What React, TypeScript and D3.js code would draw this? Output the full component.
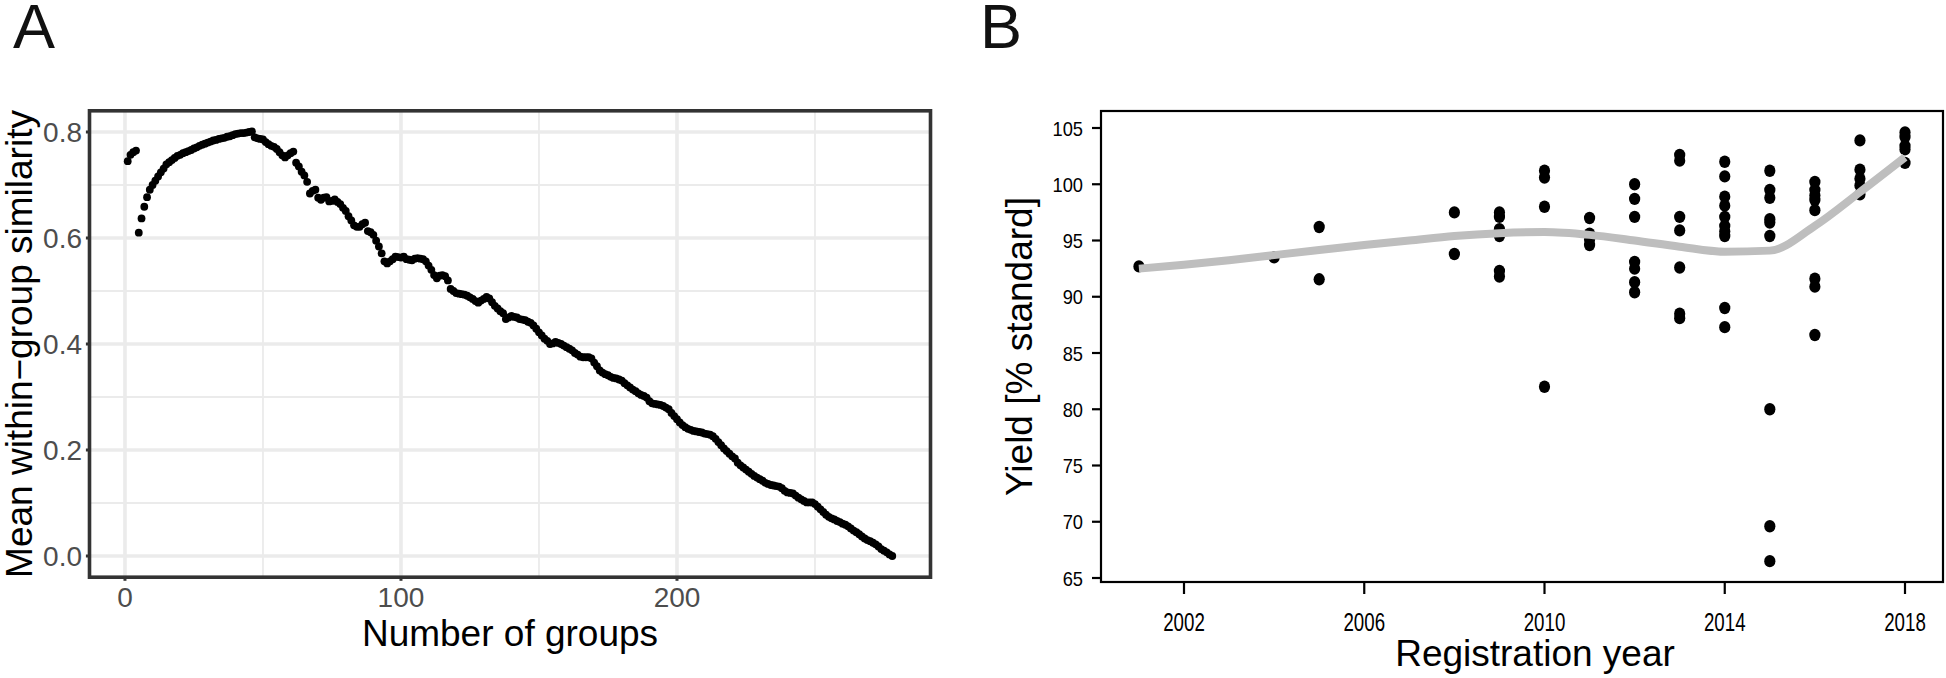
import React from "react";
import * as d3 from "d3";

// ---------- Panel A data ----------
// Mean within-group similarity for number of groups = 1, 2, 3, ...
const similarity: number[] = [
  0.745, 0.757, 0.762, 0.765, 0.610, 0.637, 0.659, 0.677, 0.691, 0.700,
  0.708, 0.716, 0.724, 0.731, 0.739, 0.743, 0.747, 0.751, 0.755, 0.757,
  0.760, 0.762, 0.764, 0.766, 0.769, 0.771, 0.774, 0.776, 0.778, 0.780,
  0.782, 0.784, 0.785, 0.787, 0.788, 0.789, 0.791, 0.792, 0.794, 0.796,
  0.797, 0.798, 0.798, 0.799, 0.800, 0.801, 0.790, 0.788, 0.787, 0.786,
  0.781, 0.777, 0.774, 0.772, 0.768, 0.762, 0.756, 0.752, 0.756, 0.760,
  0.763, 0.742, 0.735, 0.725, 0.718, 0.706, 0.684, 0.689, 0.691, 0.676,
  0.672, 0.676, 0.677, 0.669, 0.670, 0.673, 0.668, 0.664, 0.657, 0.651,
  0.641, 0.633, 0.624, 0.621, 0.621, 0.626, 0.629, 0.613, 0.611, 0.606,
  0.595, 0.584, 0.571, 0.556, 0.552, 0.556, 0.560, 0.565, 0.564, 0.563,
  0.565, 0.560, 0.559, 0.558, 0.561, 0.562, 0.561, 0.560, 0.556, 0.548,
  0.540, 0.530, 0.524, 0.529, 0.530, 0.528, 0.520, 0.504, 0.500, 0.496,
  0.495, 0.494, 0.493, 0.491, 0.488, 0.485, 0.481, 0.478, 0.482, 0.485,
  0.489, 0.486, 0.479, 0.472, 0.467, 0.462, 0.458, 0.447, 0.450, 0.453,
  0.451, 0.450, 0.447, 0.446, 0.445, 0.442, 0.440, 0.435, 0.429, 0.422,
  0.416, 0.410, 0.406, 0.400, 0.401, 0.404, 0.402, 0.400, 0.397, 0.394,
  0.391, 0.388, 0.383, 0.380, 0.376, 0.375, 0.375, 0.375, 0.373, 0.365,
  0.358, 0.350, 0.346, 0.343, 0.341, 0.338, 0.336, 0.335, 0.333, 0.331,
  0.326, 0.322, 0.318, 0.314, 0.311, 0.307, 0.304, 0.302, 0.299, 0.292,
  0.288, 0.287, 0.286, 0.285, 0.283, 0.280, 0.277, 0.270, 0.264, 0.258,
  0.252, 0.247, 0.243, 0.240, 0.238, 0.236, 0.235, 0.234, 0.233, 0.231,
  0.230, 0.229, 0.226, 0.221, 0.215, 0.209, 0.203, 0.198, 0.193, 0.188,
  0.184, 0.176, 0.171, 0.167, 0.163, 0.159, 0.155, 0.151, 0.148, 0.145,
  0.142, 0.138, 0.136, 0.134, 0.133, 0.132, 0.131, 0.128, 0.123, 0.120,
  0.119, 0.118, 0.114, 0.110, 0.107, 0.104, 0.101, 0.101, 0.101, 0.098,
  0.093, 0.088, 0.083, 0.078, 0.074, 0.071, 0.069, 0.066, 0.064, 0.061,
  0.059, 0.056, 0.052, 0.048, 0.045, 0.041, 0.037, 0.033, 0.030, 0.028,
  0.025, 0.022, 0.018, 0.013, 0.010, 0.007, 0.003, 0.000,
];
const aXTicks = [0, 100, 200];
const aXMinor = [50, 150, 250];
const aYTicks = [0, 0.2, 0.4, 0.6, 0.8];
const aYMinor = [0.1, 0.3, 0.5, 0.7];

// ---------- Panel B data ----------
const regYear: number[] = [
  2001,
  2004,
  2005, 2005,
  2008, 2008,
  2009, 2009, 2009, 2009, 2009, 2009,
  2010, 2010, 2010, 2010,
  2011, 2011, 2011, 2011,
  2012, 2012, 2012, 2012, 2012, 2012, 2012,
  2013, 2013, 2013, 2013, 2013, 2013, 2013,
  2014, 2014, 2014, 2014, 2014, 2014, 2014, 2014, 2014, 2014,
  2015, 2015, 2015, 2015, 2015, 2015, 2015, 2015, 2015,
  2016, 2016, 2016, 2016, 2016, 2016, 2016, 2016,
  2017, 2017, 2017, 2017, 2017,
  2018, 2018, 2018, 2018, 2018,
];
const yieldPct: number[] = [
  92.7,
  93.5,
  96.2, 91.55,
  97.5, 93.8,
  97.5, 97.1, 96.0, 95.4, 92.3, 91.8,
  101.2, 100.6, 98.0, 82.0,
  97.0, 95.6, 95.1, 94.6,
  100.0, 98.7, 97.1, 93.1, 92.5, 91.3, 90.4,
  102.6, 102.1, 97.1, 95.9, 92.6, 88.5, 88.1,
  102.0, 100.7, 98.9, 98.1, 97.1, 96.3, 95.8, 95.4, 89.0, 87.3,
  101.2, 99.5, 98.8, 96.9, 96.6, 95.4, 80.0, 69.6, 66.5,
  100.2, 99.5, 99.0, 98.6, 97.7, 91.6, 90.9, 86.6,
  103.9, 101.3, 100.5, 99.9, 99.1,
  104.6, 104.2, 103.4, 103.1, 101.9,
];
const smoothYear: number[] = [
  2001, 2002, 2003, 2004, 2005, 2006, 2007, 2008, 2009,
  2010, 2011, 2012, 2013, 2014, 2015, 2016, 2017, 2018,
];
const smoothYield: number[] = [
  92.5, 92.85, 93.25, 93.7, 94.15, 94.6, 95.0, 95.4, 95.65,
  95.75, 95.5, 95.0, 94.45, 94.0, 94.1, 96.3, 99.3, 102.4,
];
const bXTicks = [2002, 2006, 2010, 2014, 2018];
const bYTicks = [65, 70, 75, 80, 85, 90, 95, 100, 105];

const FONT = "'Liberation Sans', Arial, Helvetica, sans-serif";

function PanelA() {
  const x = d3.scaleLinear().domain([-12.85, 291.85]).range([89.5, 930.5]);
  const y = d3.scaleLinear().domain([-0.04, 0.84]).range([577.2, 110.8]);
  const [x0, x1] = x.range();
  const [y0, y1] = y.range();
  const grid = "#EBEBEB";
  return (
    <g>
      <rect x={x0} y={y1} width={x1 - x0} height={y0 - y1} fill="#FFFFFF" />
      {aYMinor.map((v) => (
        <line key={"ym" + v} x1={x0} x2={x1} y1={y(v)} y2={y(v)} stroke={grid} strokeWidth={1.8} />
      ))}
      {aXMinor.map((v) => (
        <line key={"xm" + v} x1={x(v)} x2={x(v)} y1={y0} y2={y1} stroke={grid} strokeWidth={1.8} />
      ))}
      {aYTicks.map((v) => (
        <line key={"yM" + v} x1={x0} x2={x1} y1={y(v)} y2={y(v)} stroke={grid} strokeWidth={3.6} />
      ))}
      {aXTicks.map((v) => (
        <line key={"xM" + v} x1={x(v)} x2={x(v)} y1={y0} y2={y1} stroke={grid} strokeWidth={3.6} />
      ))}
      {similarity.map((v, i) => (
        <circle key={i} cx={x(i + 1)} cy={y(v)} r={3.9} fill="#000000" />
      ))}
      <rect x={x0} y={y1} width={x1 - x0} height={y0 - y1} fill="none" stroke="#333333" strokeWidth={3.6} />
      {aYTicks.map((v) => (
        <g key={"yt" + v}>
          <line x1={x0 - 3.6} x2={x0} y1={y(v)} y2={y(v)} stroke="#333333" strokeWidth={3} />
          <text x={82} y={y(v)} dy="0.36em" textAnchor="end" fontSize={28} fill="#4D4D4D" fontFamily={FONT}>
            {v.toFixed(1)}
          </text>
        </g>
      ))}
      {aXTicks.map((v) => (
        <g key={"xt" + v}>
          <line x1={x(v)} x2={x(v)} y1={y0} y2={y0 + 3.6} stroke="#333333" strokeWidth={3} />
          <text x={x(v)} y={607} textAnchor="middle" fontSize={28} fill="#4D4D4D" fontFamily={FONT}>
            {v}
          </text>
        </g>
      ))}
      <text x={(x0 + x1) / 2} y={646} textAnchor="middle" fontSize={37} fill="#000" fontFamily={FONT}>
        Number of groups
      </text>
      <text
        transform={`translate(32, ${(y0 + y1) / 2}) rotate(-90)`}
        textAnchor="middle"
        fontSize={37}
        fill="#000"
        fontFamily={FONT}
      >
        Mean within−group similarity
      </text>
      <text x={13} y={48} fontSize={63} fill="#111" fontFamily={FONT}>
        A
      </text>
    </g>
  );
}

function PanelB() {
  const x = d3.scaleLinear().domain([2002, 2018]).range([1184, 1905]);
  const y = d3.scaleLinear().domain([65, 105]).range([578, 128]);
  const box = { left: 1101, right: 1943, top: 111, bottom: 582 };
  const line = d3
    .line<number>()
    .x((_, i) => x(smoothYear[i]))
    .y((d) => y(d))
    .curve(d3.curveMonotoneX);
  return (
    <g>
      {yieldPct.map((v, i) => (
        <ellipse key={i} cx={x(regYear[i])} cy={y(v)} rx={5.6} ry={6.2} fill="#000000" />
      ))}
      <path d={line(smoothYield) || ""} fill="none" stroke="#BEBEBE" strokeWidth={8} strokeLinecap="butt" />
      <rect
        x={box.left}
        y={box.top}
        width={box.right - box.left}
        height={box.bottom - box.top}
        fill="none"
        stroke="#000"
        strokeWidth={2.2}
      />
      {bYTicks.map((v) => (
        <g key={"by" + v}>
          <line x1={box.left - 9} x2={box.left} y1={y(v)} y2={y(v)} stroke="#000" strokeWidth={2.2} />
          <text
            transform={`translate(1083, ${y(v)}) scale(0.87, 1)`}
            dy="0.36em"
            textAnchor="end"
            fontSize={21}
            fill="#000"
            fontFamily={FONT}
          >
            {v}
          </text>
        </g>
      ))}
      {bXTicks.map((v) => (
        <g key={"bx" + v}>
          <line x1={x(v)} x2={x(v)} y1={box.bottom} y2={box.bottom + 12} stroke="#000" strokeWidth={2.2} />
          <text
            transform={`translate(${x(v)}, 631) scale(0.72, 1)`}
            textAnchor="middle"
            fontSize={26}
            fill="#000"
            fontFamily={FONT}
          >
            {v}
          </text>
        </g>
      ))}
      <text x={1535} y={666} textAnchor="middle" fontSize={37} fill="#000" fontFamily={FONT}>
        Registration year
      </text>
      <text
        transform={`translate(1032, ${(box.top + box.bottom) / 2}) rotate(-90)`}
        textAnchor="middle"
        fontSize={37}
        fill="#000"
        fontFamily={FONT}
      >
        Yield [% standard]
      </text>
      <text x={980} y={48} fontSize={63} fill="#111" fontFamily={FONT}>
        B
      </text>
    </g>
  );
}

export default function App() {
  return (
    <svg
      width={1946}
      height={678}
      viewBox="0 0 1946 678"
      style={{ position: "absolute", left: 0, top: 0, background: "#FFFFFF" }}
    >
      <rect x={0} y={0} width={1946} height={678} fill="#FFFFFF" />
      <PanelA />
      <PanelB />
    </svg>
  );
}
